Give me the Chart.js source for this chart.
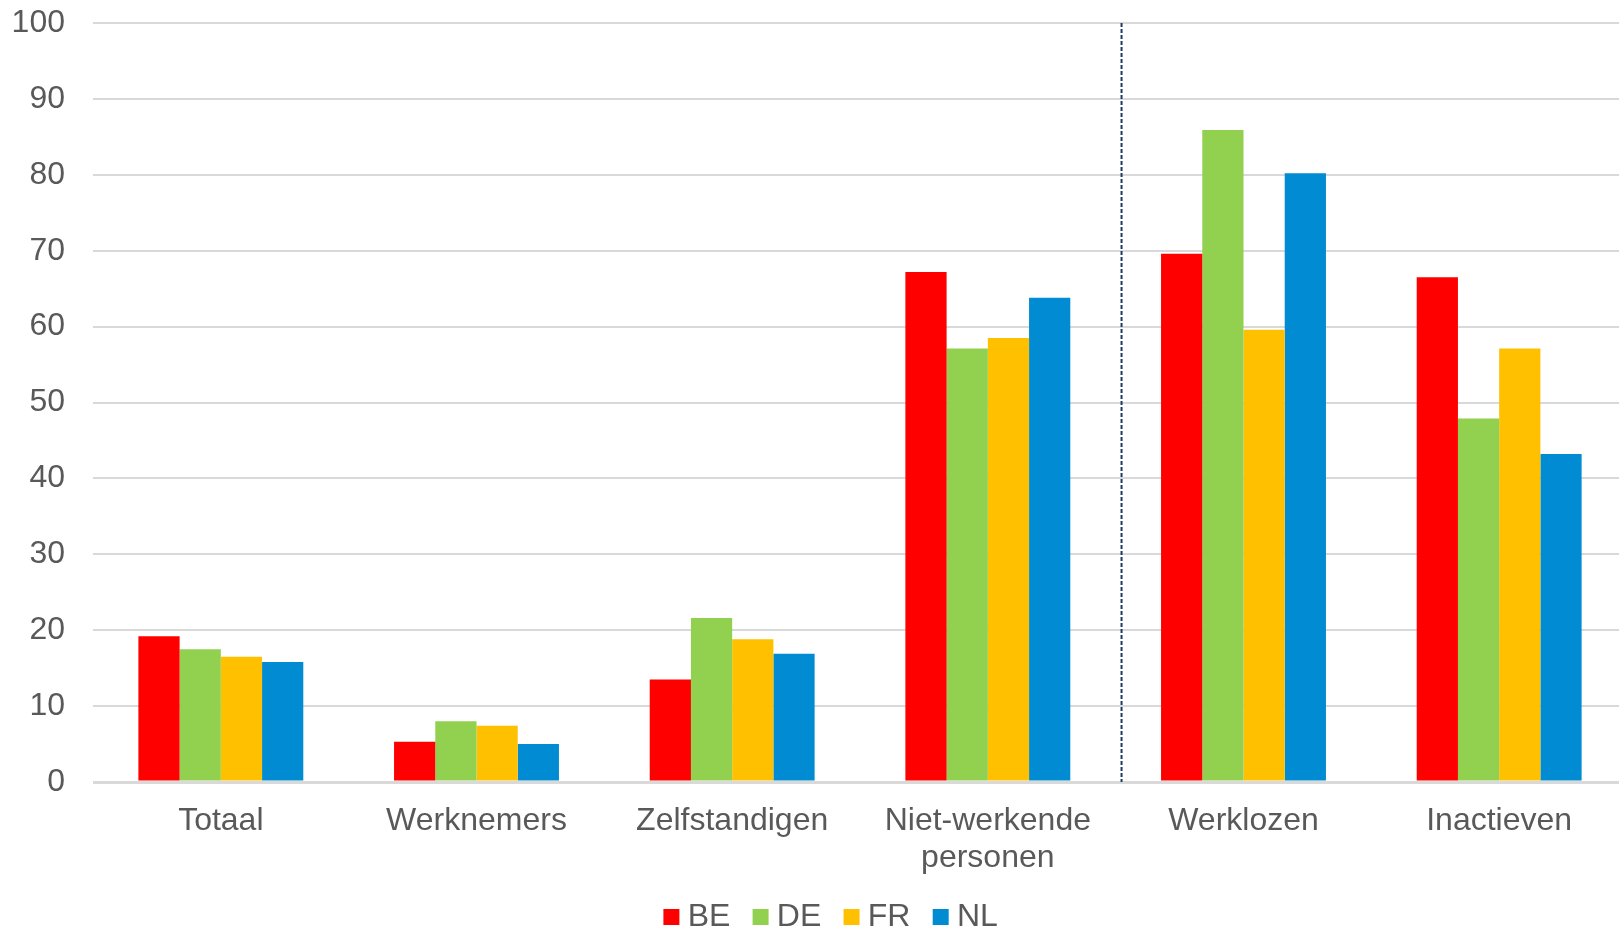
<!DOCTYPE html>
<html>
<head>
<meta charset="utf-8">
<script src="https://cdn.jsdelivr.net/npm/chart.js@4/dist/chart.umd.min.js"></script>
<style>
  html, body { margin: 0; padding: 0; background: #fff; overflow: hidden; }
  #wrap { width: 1627px; height: 931px; }
</style>
</head>
<body>
<div id="wrap"><canvas id="chart"></canvas></div>
<script>
// categories and values per country
var categories = ['Totaal', 'Werknemers', 'Zelfstandigen', ['Niet-werkende', 'personen'], 'Werklozen', 'Inactieven'];
var valuesBE = [19.2, 5.3, 13.5, 67.2, 69.6, 66.5];
var valuesDE = [17.5, 8.0, 21.6, 57.1, 85.9, 47.9];
var valuesFR = [16.5, 7.4, 18.8, 58.5, 59.6, 57.1];
var valuesNL = [15.8, 5.0, 16.9, 63.8, 80.2, 43.2];
var yTicks = [0, 10, 20, 30, 40, 50, 60, 70, 80, 90, 100];

var textColor = '#595959';
var fontFamily = "'Liberation Sans', Arial, sans-serif";

// legend tweaks + dashed separator between "Niet-werkende personen" and "Werklozen"
var extras = {
  id: 'extras',
  beforeLayout: function (chart) {
    var lg = chart.legend;
    if (lg && !lg._fixedHeight) {
      var fit = lg.fit;
      lg.fit = function () {
        fit.call(this);
        this.height = 56; // keep the legend strip compact
      };
      lg._fixedHeight = true;
    }
  },
  afterLayout: function (chart) {
    // legend sits a bit right of the canvas centre in the original
    chart.legend.left += 42;
    chart.legend.top -= 4;
    chart.legend.bottom -= 4;
  },
  afterDatasetsDraw: function (chart) {
    var x = chart.scales.x, y = chart.scales.y;
    var step = x.getPixelForValue(4) - x.getPixelForValue(3);
    var px = (x.getPixelForValue(3) + x.getPixelForValue(4)) / 2 + step * 0.023;
    var ctx = chart.ctx;
    ctx.save();
    ctx.strokeStyle = '#1F3864';
    ctx.lineWidth = 2;
    ctx.setLineDash([4, 2]);
    ctx.beginPath();
    ctx.moveTo(px, y.getPixelForValue(100));
    ctx.lineTo(px, y.getPixelForValue(0));
    ctx.stroke();
    ctx.restore();
  }
};

function makeSet(label, data, color) {
  return {
    label: label,
    data: data,
    backgroundColor: color,
    borderWidth: 0,
    pointStyle: 'rect',
    barPercentage: 1,
    categoryPercentage: 0.645
  };
}

new Chart(document.getElementById('chart'), {
  type: 'bar',
  data: {
    labels: categories,
    datasets: [
      makeSet('BE', valuesBE, '#FF0000'),
      makeSet('DE', valuesDE, '#92D050'),
      makeSet('FR', valuesFR, '#FFC000'),
      makeSet('NL', valuesNL, '#008BD2')
    ]
  },
  options: {
    responsive: true,
    maintainAspectRatio: false,
    animation: false,
    layout: { padding: { top: 23, left: 0, right: 0, bottom: 0 } },
    plugins: {
      tooltip: { enabled: false },
      legend: {
        position: 'bottom',
        labels: {
          color: textColor,
          font: { family: fontFamily, size: 32 },
          usePointStyle: true,
          pointStyle: 'rect',
          boxWidth: 0.5,
          boxHeight: 16,
          padding: 30
        }
      }
    },
    scales: {
      x: {
        grid: { display: false, drawTicks: false },
        border: { display: false },
        ticks: {
          color: textColor,
          font: { family: fontFamily, size: 32, lineHeight: 1.15 },
          padding: 21,
          maxRotation: 0,
          autoSkip: false
        },
        afterFit: function (scale) {
          scale.height = 93;
          scale.paddingLeft = 0;
          scale.paddingRight = 0;
        }
      },
      y: {
        min: 0,
        max: 100,
        afterBuildTicks: function (scale) {
          scale.ticks = yTicks.map(function (v) { return { value: v }; });
        },
        grid: {
          drawTicks: false,
          color: '#D9D9D9',
          lineWidth: function (c) { return c.tick && c.tick.value === 0 ? 3 : 2; }
        },
        border: { display: false },
        ticks: {
          color: textColor,
          font: { family: fontFamily, size: 32 },
          padding: 28
        },
        afterFit: function (scale) {
          scale.width = 93;
          scale.paddingTop = 0;
          scale.paddingBottom = 0;
        }
      }
    }
  },
  plugins: [extras]
});
</script>
</body>
</html>
